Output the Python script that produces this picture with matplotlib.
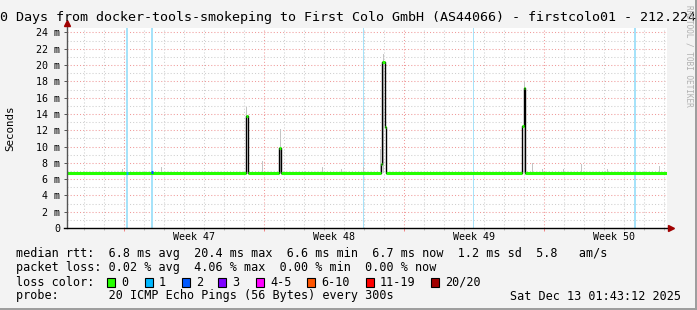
import matplotlib
matplotlib.use("Agg")
import matplotlib.pyplot as plt
from matplotlib.patches import Rectangle
import numpy as np

W, H = 697, 310

# --- data (time in days from graph start, values in ms) ---
median_t = [0, 8.95, 9.07, 10.6, 10.72, 15.68, 15.73, 15.88, 15.95, 22.75, 22.83, 22.88, 30]
median_v = [6.7, 13.7, 6.7, 9.8, 6.7, 7.8, 20.4, 12.4, 6.7, 12.5, 17.2, 6.7, 6.7]

smoke_t = [2.75, 4.7, 8.98, 9.75, 10.65, 12.75, 13.7, 14.8, 15.65, 15.8, 22.85,
           23.25, 23.75, 24.8, 25.7, 27.0, 29.6]
smoke_top = [7.2, 7.45, 14.8, 8.2, 12.1, 7.45, 7.2, 7.5, 9.7, 21.4, 17.9,
             8.0, 7.3, 7.3, 7.9, 7.2, 7.6]

loss_t = [3.0, 4.25, 14.8, 20.3, 28.4]
loss_w = [2, 2, 1, 1, 2]

week_labels = ["Week 47", "Week 48", "Week 49", "Week 50"]
week_start = [2.85, 9.85, 16.85, 23.85]

loss_names = ["0", "1", "2", "3", "4-5", "6-10", "11-19", "20/20"]
loss_colors = ["#26ff00", "#00b8ff", "#0059ff", "#7e00ff", "#ff00ff", "#ff5500", "#ff0000", "#a10000"]

title = "30 Days from docker-tools-smokeping to First Colo GmbH (AS44066) - firstcolo01 - 212.224"
legend_lines = [
    "median rtt:  6.8 ms avg  20.4 ms max  6.6 ms min  6.7 ms now  1.2 ms sd  5.8   am/s",
    "packet loss: 0.02 % avg  4.06 % max  0.00 % min  0.00 % now",
    "loss color:",
    "probe:       20 ICMP Echo Pings (56 Bytes) every 300s",
]
stamp = "Sat Dec 13 01:43:12 2025"

plt.rcParams['font.family'] = ['DejaVu Sans Mono']


def fx(x):
    return x / W


def fy(y):
    return 1 - y / H


fig = plt.figure(figsize=(W / 100, H / 100), dpi=100, facecolor="#f3f3f3")
ax = fig.add_axes([fx(67), fy(228), 600 / W, 200 / H])
ax.set_facecolor("white")
ax.set_xlim(0, 30)
ax.set_ylim(0, 24.55)
for s in ax.spines.values():
    s.set_visible(False)

# grid
dot = (0, (1, 2))
for v in range(1, 25):
    col = "#f09a9a" if v % 2 == 0 else "#cfcfcf"
    ax.axhline(v, color=col, lw=0.75, ls=dot, zorder=1)
days = np.arange(0.85, 30, 1.0)
for d in days:
    major = any(abs(d - w) < 0.01 for w in week_start)
    ax.axvline(d, color="#f09a9a" if major else "#cfcfcf", lw=0.75, ls=dot, zorder=1)

# loss bars
for t, w in zip(loss_t, loss_w):
    ax.axvline(t, color="#a6e2f9", lw=w * 0.72, zorder=2)

# smoke
ax.bar(smoke_t, np.array(smoke_top) - 6.7, bottom=6.7, width=0.05,
       color="#c4c4c4", zorder=3, linewidth=0)

# median: black steps + green segments
ax.plot(median_t, median_v, drawstyle="steps-post", color="black", lw=1.0, zorder=4)
for i in range(len(median_t) - 1):
    ax.plot([median_t[i], median_t[i + 1]], [median_v[i], median_v[i]],
            color=loss_colors[0], lw=2.2, solid_capstyle="butt", zorder=5)
ax.plot([loss_t[0] - 0.03, loss_t[0] + 0.03], [6.7, 6.7], color=loss_colors[1], lw=2.2,
        solid_capstyle="butt", zorder=6)
ax.plot([loss_t[1] - 0.03, loss_t[1] + 0.03], [6.85, 6.85], color=loss_colors[2], lw=2.2,
        solid_capstyle="butt", zorder=6)

# axes lines + arrows
ax.plot([0, 0], [0, 1.02], transform=ax.transAxes, color="#555555", lw=1, clip_on=False, zorder=7)
ax.plot([-0.005, 1.004], [0, 0], transform=ax.transAxes, color="black", lw=1, clip_on=False, zorder=7)
ax.plot([0], [1.025], marker="^", ms=4, color="#a00000", transform=ax.transAxes, clip_on=False, zorder=8)
ax.plot([1.007], [0], marker=">", ms=4, color="#a00000", transform=ax.transAxes, clip_on=False, zorder=8)

# ticks
yt = list(range(0, 25, 2))
ax.set_yticks(yt)
ax.set_yticklabels(["0"] + [f"{v} m" for v in yt[1:]], fontsize=7.2)
ax.tick_params(axis="y", length=2.2, width=0.7, color="#555555", pad=2.5)
ax.set_xticks(week_start)
ax.set_xticklabels([])
ax.tick_params(axis="x", length=2.2, width=0.7, color="#f08080")
ax.set_xticks([d for d in days if all(abs(d - w) > 0.01 for w in week_start)], minor=True)
ax.tick_params(axis="x", which="minor", length=1.5, width=0.7, color="#bbbbbb")

for lab, ws in zip(week_labels, week_start):
    ax.text(ws + 3.5, -9 / 8.146, lab, ha="center", va="center", fontsize=7.2)

# labels
fig.text(fx(-7.5), fy(18), title, ha="left", va="center", fontsize=9.6)
fig.text(fx(10), fy(128), "Seconds", rotation=90, ha="center", va="center", fontsize=7.8)
fig.text(fx(689), fy(5), "RRDTOOL / TOBI OETIKER", rotation=270, ha="center", va="top",
         fontsize=5.6, color="#b0b0b0")

rows_y = [254, 268, 282, 296]
for line, ry in zip(legend_lines, rows_y):
    fig.text(fx(16), fy(ry), line, ha="left", va="center", fontsize=8.5)
fig.text(fx(681), fy(296), stamp, ha="right", va="center", fontsize=8.5)

box_x = [107, 145, 182, 218, 256, 307, 366, 431]
for bx, name, c in zip(box_x, loss_names, loss_colors):
    fig.patches.append(Rectangle((fx(bx), fy(287)), 8 / W, 9 / H, transform=fig.transFigure,
                                 facecolor=c, edgecolor="black", lw=0.8))
    fig.text(fx(bx + 14), fy(282), name, ha="left", va="center", fontsize=8.5)

# frame shading
fig.patches.append(Rectangle((fx(695), 0), 2 / W, 1, transform=fig.transFigure,
                             facecolor="#9e9e9e", edgecolor="none"))
fig.patches.append(Rectangle((0, 0), 1, 2 / H, transform=fig.transFigure,
                             facecolor="#9e9e9e", edgecolor="none"))

fig.savefig("out.png", dpi=100, facecolor=fig.get_facecolor())
